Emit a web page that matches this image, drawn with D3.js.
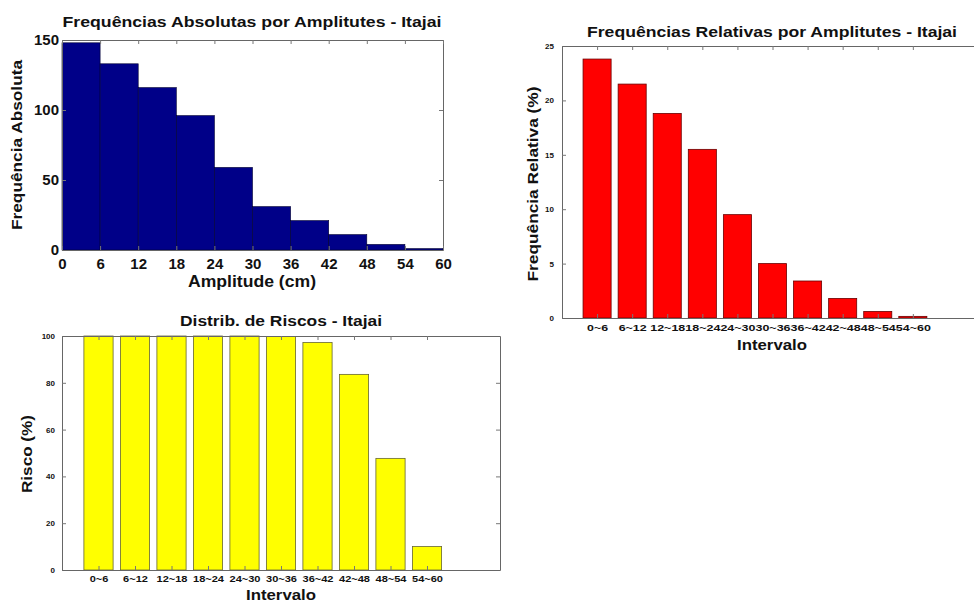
<!DOCTYPE html>
<html><head><meta charset="utf-8">
<script src="https://cdn.jsdelivr.net/npm/d3@7"></script>
<style>
html,body{margin:0;padding:0;background:#fff;}
text{font-family:"Liberation Sans",Arial,Helvetica,sans-serif;font-weight:bold;fill:#111;}
</style></head><body>
<svg id="c" width="974" height="605"></svg>
<script>
// ---- data ----
const binEdges = [0,6,12,18,24,30,36,42,48,54,60];
const absFreq = [148,133,116,96,59,31,21,11,4,1];
const intervals = ["0~6","6~12","12~18","18~24","24~30","30~36","36~42","42~48","48~54","54~60"];
const relFreq = [23.8,21.5,18.8,15.5,9.5,5.0,3.4,1.8,0.6,0.15];
const risk = [100,100,100,100,100,99.8,97.2,83.6,47.7,10.0];
const absYTicks = [0,50,100,150];
const relYTicks = [0,5,10,15,20,25];
const riskYTicks = [0,20,40,60,80,100];

const svg = d3.select("#c");

function frame(g, x, y, yTicks, xTicks, xFmt, o) {
  const [x0,x1] = x.range(), [y0,y1] = y.range();
  const ax = g.append("g").attr("transform",`translate(${x0},0)`)
    .call(d3.axisLeft(y).tickValues(yTicks).tickSizeInner(-4).tickSizeOuter(0).tickPadding(o.padY));
  ax.selectAll("text").style("font-size",o.fsY+"px").attr("fill","#111");
  g.append("g").attr("transform",`translate(${x1},0)`)
    .call(d3.axisRight(y).tickValues(yTicks).tickSizeInner(-4).tickSizeOuter(0).tickFormat(""));
  const bx = g.append("g").attr("transform",`translate(0,${y0})`)
    .call(d3.axisBottom(x).tickValues(xTicks).tickSizeInner(-4).tickSizeOuter(0).tickPadding(o.padX).tickFormat(xFmt));
  bx.selectAll("text").style("font-size",o.fsX+"px").attr("fill","#111");
  if (o.charW) {
    bx.selectAll("text").each(function(){
      const t = d3.select(this);
      t.attr("textLength", t.text().length*o.charW).attr("lengthAdjust","spacingAndGlyphs");
    });
  }
  g.append("g").attr("transform",`translate(0,${y1})`)
    .call(d3.axisTop(x).tickValues(xTicks).tickSizeInner(-4).tickSizeOuter(0).tickFormat(""));
  g.selectAll(".domain").attr("stroke","#666");
  g.selectAll(".tick line").attr("stroke","#777");
}

function label(g, txt, x, y, fs, len, rot) {
  const t = g.append("text").attr("text-anchor","middle").style("font-size",fs+"px")
    .attr("textLength",len).attr("lengthAdjust","spacingAndGlyphs").text(txt);
  if (rot) t.attr("transform",`translate(${x},${y}) rotate(-90)`);
  else t.attr("x",x).attr("y",y);
}

// ---- Chart 1: histogram ----
{
  const g = svg.append("g");
  const x = d3.scaleLinear().domain([0,60]).range([62,443]);
  const y = d3.scaleLinear().domain([0,150]).range([250,40]);
  g.selectAll("rect").data(absFreq).join("rect")
    .attr("x",(d,i)=>x(binEdges[i])).attr("width",(d,i)=>x(binEdges[i+1])-x(binEdges[i]))
    .attr("y",d=>y(d)).attr("height",d=>y(0)-y(d))
    .attr("fill","#000088").attr("stroke","#000030").attr("stroke-width",0.6);
  frame(g,x,y,absYTicks,binEdges,d=>d,{fsY:15,fsX:15,padY:3,padX:8});
  label(g,"Frequências Absolutas por Amplitutes - Itajai",252,27,15.5,379);
  label(g,"Amplitude (cm)",252,287,16,128);
  label(g,"Frequência Absoluta",22,145,15.5,170,true);
}

// ---- Chart 2: relative frequencies ----
{
  const g = svg.append("g");
  const x = d3.scaleLinear().domain([0,12]).range([562,983]);
  const y = d3.scaleLinear().domain([0,25]).range([318,46]);
  const idx = d3.range(1,11);
  g.selectAll("rect").data(relFreq).join("rect")
    .attr("x",(d,i)=>x(i+1-0.4)).attr("width",x(0.8)-x(0))
    .attr("y",d=>y(d)).attr("height",d=>y(0)-y(d))
    .attr("fill","#ff0000").attr("stroke","#6a0000").attr("stroke-width",0.8);
  frame(g,x,y,relYTicks,idx,d=>intervals[d-1],{fsY:8,fsX:9,padY:8,padX:7,charW:7});
  label(g,"Frequências Relativas por Amplitutes - Itajai",772,37,15.5,370);
  label(g,"Intervalo",772,350,15.5,70);
  label(g,"Frequência Relativa (%)",538,184,15.5,195,true);
}

// ---- Chart 3: risk ----
{
  const g = svg.append("g");
  const x = d3.scaleLinear().domain([0,12]).range([62,500]);
  const y = d3.scaleLinear().domain([0,100]).range([570,336]);
  const idx = d3.range(1,11);
  g.selectAll("rect").data(risk).join("rect")
    .attr("x",(d,i)=>x(i+1-0.4)).attr("width",x(0.8)-x(0))
    .attr("y",d=>y(d)).attr("height",d=>y(0)-y(d))
    .attr("fill","#ffff00").attr("stroke","#666633").attr("stroke-width",0.8);
  frame(g,x,y,riskYTicks,idx,d=>intervals[d-1],{fsY:8,fsX:8.5,padY:7,padX:6,charW:6.2});
  label(g,"Distrib. de Riscos - Itajai",281,326,14.5,202);
  label(g,"Intervalo",281,600,15.5,70);
  label(g,"Risco (%)",32,454,15.5,78,true);
}
</script></body></html>
